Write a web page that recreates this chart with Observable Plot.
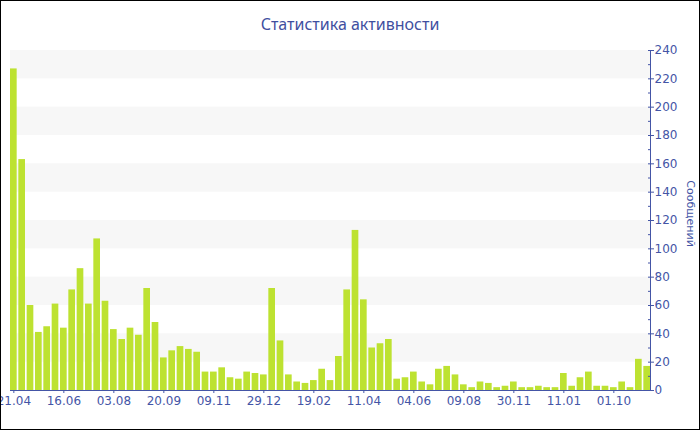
<!DOCTYPE html>
<html>
<head>
<meta charset="utf-8">
<script src="https://cdn.jsdelivr.net/npm/d3@7"></script>
<script src="https://cdn.jsdelivr.net/npm/@observablehq/plot@0.6"></script>
<style>
  body { margin: 0; background: #fff; }
  #wrap { position: relative; width: 700px; height: 430px; overflow: hidden; background: #fff; }
  #title { height: 40px; box-sizing: border-box; padding-top: 14px; text-align: center;
           font-family: "Noto Sans", "Open Sans", sans-serif; font-size: 16px; line-height: 20px; color: #3f4f9f; }
  #frame { position: absolute; left: 0; top: 0; width: 700px; height: 430px; box-sizing: border-box;
           border: 1px solid #000; pointer-events: none; }
  #chart svg { display: block; }
</style>
</head>
<body>
<div id="wrap">
  <div id="title">Статистика активности</div>
  <div id="chart"></div>
  <div id="frame"></div>
</div>
<script>
const title = "Статистика активности";
const yLabel = "Сообщений";
const dateLabels = ["21.04","16.06","03.08","20.09","09.11","29.12","19.02","11.04","04.06","09.08","30.11","11.01","01.10"];
const labelEvery = 6;
const counts = [
  227,163,60,41,45,61,44,71,86,61,107,63,43,36,44,39,72,48,23,28,31,29,27,13,13,16,9,8,
  13,12,11,72,35,11,6,5,7,15,7,24,71,113,64,30,33,36,8,9,13,6,4,15,17,11,4,
  2,6,5,2,3,6,2,2,3,2,2,12,3,9,13,3,3,2,6,2,22,17
];
const yTicks = d3.range(0, 241, 20);
const yMinorTicks = d3.range(10, 240, 20);
const bandStarts = d3.range(20, 240, 40);

const axisColor = "#4455a6";
const barColor = "#bde231";

const data = counts.map((v, i) => ({i, v}));
const xTickIdx = dateLabels.map((_, k) => k * labelEvery);

const rightLine = (index, scales, values, dimensions) => {
  const x = dimensions.width - dimensions.marginRight + 0.5;
  const line = d3.create("svg:line")
    .attr("x1", x).attr("x2", x)
    .attr("y1", dimensions.marginTop)
    .attr("y2", dimensions.height - dimensions.marginBottom)
    .attr("stroke", axisColor);
  return line.node();
};

const chart = Plot.plot({
  width: 700,
  height: 390,
  marginLeft: 10,
  marginRight: 50,
  marginTop: 10,
  marginBottom: 40,
  style: {fontFamily: "DejaVu Sans, Verdana, sans-serif", fontSize: "11px", color: axisColor, background: "transparent", overflow: "visible"},
  x: {type: "band", domain: d3.range(counts.length), paddingInner: 0.2, paddingOuter: 0, round: false, axis: null, label: null},
  y: {domain: [0, 240], axis: null, label: null},
  marks: [
    Plot.rect(bandStarts, {y1: d => d, y2: d => d + 20, fill: "#f7f7f7"}),
    Plot.barY(data, {x: "i", y: "v", fill: barColor}),
    Plot.ruleY([0], {stroke: axisColor}),
    rightLine,
    Plot.axisY(yTicks, {anchor: "right", tickSize: 6, dx: -3, fill: "none", stroke: axisColor, label: null}),
    Plot.axisY(yMinorTicks, {anchor: "right", tickSize: 3, dx: -3, fill: "none", stroke: axisColor, label: null}),
    Plot.axisY(yTicks, {anchor: "right", tickSize: 3, tickPadding: 1, stroke: "none", fill: axisColor, fontSize: 12, label: null}),
    Plot.axisX(xTickIdx, {anchor: "bottom", tickSize: 3, tickPadding: 3, stroke: axisColor, fill: axisColor, fontSize: 12, label: null,
      tickFormat: i => dateLabels[i / labelEvery]}),
    Plot.text([yLabel], {frameAnchor: "right", textAnchor: "middle", rotate: 90, dx: 40, dy: -7, fill: axisColor, fontSize: 11, fontFamily: "DejaVu Sans, Verdana, sans-serif"})
  ]
});
document.getElementById("chart").appendChild(chart);
</script>
</body>
</html>
